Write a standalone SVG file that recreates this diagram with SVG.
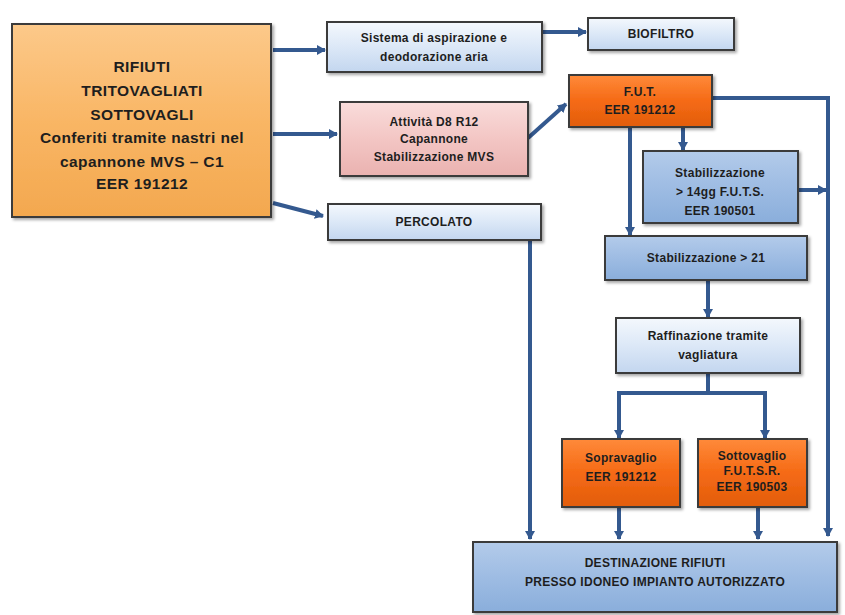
<svg xmlns="http://www.w3.org/2000/svg" width="845" height="615" viewBox="0 0 845 615">
<defs>
<linearGradient id="gLight" x1="0" y1="0" x2="0" y2="1">
<stop offset="0" stop-color="#f4f8fd"/><stop offset="0.5" stop-color="#dce8f7"/><stop offset="1" stop-color="#c3d6ef"/>
</linearGradient>
<linearGradient id="gMid" x1="0" y1="0" x2="0" y2="1">
<stop offset="0" stop-color="#b3cbea"/><stop offset="0.5" stop-color="#9ebce3"/><stop offset="1" stop-color="#8aaedb"/>
</linearGradient>
<linearGradient id="gOrange" x1="0" y1="0" x2="0" y2="1">
<stop offset="0" stop-color="#ff8a3a"/><stop offset="0.5" stop-color="#f56a15"/><stop offset="1" stop-color="#e25d0c"/>
</linearGradient>
<linearGradient id="gMain" x1="0" y1="0" x2="0" y2="1">
<stop offset="0" stop-color="#fcc98a"/><stop offset="0.5" stop-color="#f9b665"/><stop offset="1" stop-color="#f3a84f"/>
</linearGradient>
<linearGradient id="gPink" x1="0" y1="0" x2="0" y2="1">
<stop offset="0" stop-color="#f9dcdb"/><stop offset="0.5" stop-color="#f3c6c4"/><stop offset="1" stop-color="#eab2b0"/>
</linearGradient>
<filter id="sh" x="-10%" y="-10%" width="130%" height="140%">
<feDropShadow dx="2" dy="2" stdDeviation="1.5" flood-color="#000" flood-opacity="0.35"/>
</filter>
<marker id="ah" markerUnits="userSpaceOnUse" markerWidth="10" markerHeight="10" refX="8" refY="5" orient="auto">
<path d="M0,0 L9,5 L0,10 Z" fill="#34598f"/>
</marker>
</defs>
<style>
.box{stroke:#3b3b3b;stroke-width:2;filter:url(#sh)}
.t{font-family:"Liberation Sans",Arial,sans-serif;font-weight:bold;font-size:12px;letter-spacing:0.3px;fill:#1e1e1e;text-anchor:middle}
.tm{font-size:15.5px;letter-spacing:0.4px}
.c{fill:none;stroke:#34598f;stroke-width:4}
.a{marker-end:url(#ah)}
</style>
<rect width="845" height="615" fill="#ffffff"/>

<g id="connectors">
<line class="c a" x1="273" y1="50" x2="325" y2="50"/>
<line class="c a" x1="273" y1="134" x2="337" y2="134"/>
<line class="c a" x1="273" y1="203" x2="323" y2="216"/>
<line class="c a" x1="542" y1="32" x2="586" y2="32"/>
<line class="c a" x1="528" y1="138" x2="566" y2="104"/>
<polyline class="c a" points="712,98 828,98 828,536"/>
<line class="c a" x1="683" y1="127" x2="683" y2="150"/>
<line class="c a" x1="630" y1="127" x2="630" y2="235"/>
<line class="c a" x1="798" y1="190" x2="826" y2="190"/>
<line class="c a" x1="708" y1="280" x2="708" y2="317"/>
<line class="c" x1="708" y1="373" x2="708" y2="393"/>
<polyline class="c a" points="619,438 619,393 765,393 765,438"/>
<line class="c a" x1="619" y1="393" x2="619" y2="438"/>
<line class="c a" x1="619" y1="507" x2="619" y2="539"/>
<line class="c a" x1="758" y1="507" x2="758" y2="539"/>
<line class="c a" x1="530" y1="240" x2="530" y2="539"/>
</g>

<g id="main">
<rect class="box" x="12" y="24" width="259" height="193" fill="url(#gMain)"/>
<text class="t tm" x="142" y="72">RIFIUTI</text>
<text class="t tm" x="142" y="96">TRITOVAGLIATI</text>
<text class="t tm" x="142" y="120">SOTTOVAGLI</text>
<text class="t tm" x="142" y="143">Conferiti tramite nastri nel</text>
<text class="t tm" x="142" y="167">capannone MVS – C1</text>
<text class="t tm" x="142" y="189">EER 191212</text>
</g>

<g id="sistema">
<rect class="box" x="327" y="22" width="215" height="50" fill="url(#gLight)"/>
<text class="t" x="434" y="42">Sistema di aspirazione e</text>
<text class="t" x="434" y="61">deodorazione aria</text>
</g>

<g id="biofiltro">
<rect class="box" x="588" y="18" width="146" height="32" fill="url(#gLight)"/>
<text class="t" x="661" y="38">BIOFILTRO</text>
</g>

<g id="attivita">
<rect class="box" x="340" y="102" width="188" height="74" fill="url(#gPink)"/>
<text class="t" x="434" y="126">Attività D8 R12</text>
<text class="t" x="434" y="143">Capannone</text>
<text class="t" x="434" y="161">Stabilizzazione MVS</text>
</g>

<g id="percolato">
<rect class="box" x="328" y="204" width="213" height="36" fill="url(#gLight)"/>
<text class="t" x="434" y="226">PERCOLATO</text>
</g>

<g id="fut">
<rect class="box" x="569" y="75" width="143" height="52" fill="url(#gOrange)"/>
<text class="t" x="640" y="96">F.U.T.</text>
<text class="t" x="640" y="114">EER 191212</text>
</g>

<g id="stab14">
<rect class="box" x="643" y="151" width="155" height="72" fill="url(#gMid)"/>
<text class="t" x="720" y="177">Stabilizzazione</text>
<text class="t" x="720" y="196">&gt; 14gg F.U.T.S.</text>
<text class="t" x="720" y="215">EER 190501</text>
</g>

<g id="stab21">
<rect class="box" x="605" y="236" width="202" height="44" fill="url(#gMid)"/>
<text class="t" x="706" y="262">Stabilizzazione &gt; 21</text>
</g>

<g id="raffinazione">
<rect class="box" x="616" y="318" width="184" height="55" fill="url(#gLight)"/>
<text class="t" x="708" y="340">Raffinazione tramite</text>
<text class="t" x="708" y="359">vagliatura</text>
</g>

<g id="sopravaglio">
<rect class="box" x="562" y="439" width="118" height="68" fill="url(#gOrange)"/>
<text class="t" x="621" y="462">Sopravaglio</text>
<text class="t" x="621" y="481">EER 191212</text>
</g>

<g id="sottovaglio">
<rect class="box" x="698" y="439" width="109" height="68" fill="url(#gOrange)"/>
<text class="t" x="752" y="460">Sottovaglio</text>
<text class="t" x="752" y="475">F.U.T.S.R.</text>
<text class="t" x="752" y="491">EER 190503</text>
</g>

<g id="destinazione">
<rect class="box" x="473" y="542" width="364" height="70" fill="url(#gMid)"/>
<text class="t" x="655" y="567">DESTINAZIONE RIFIUTI</text>
<text class="t" x="655" y="586">PRESSO IDONEO IMPIANTO AUTORIZZATO</text>
</g>
</svg>
